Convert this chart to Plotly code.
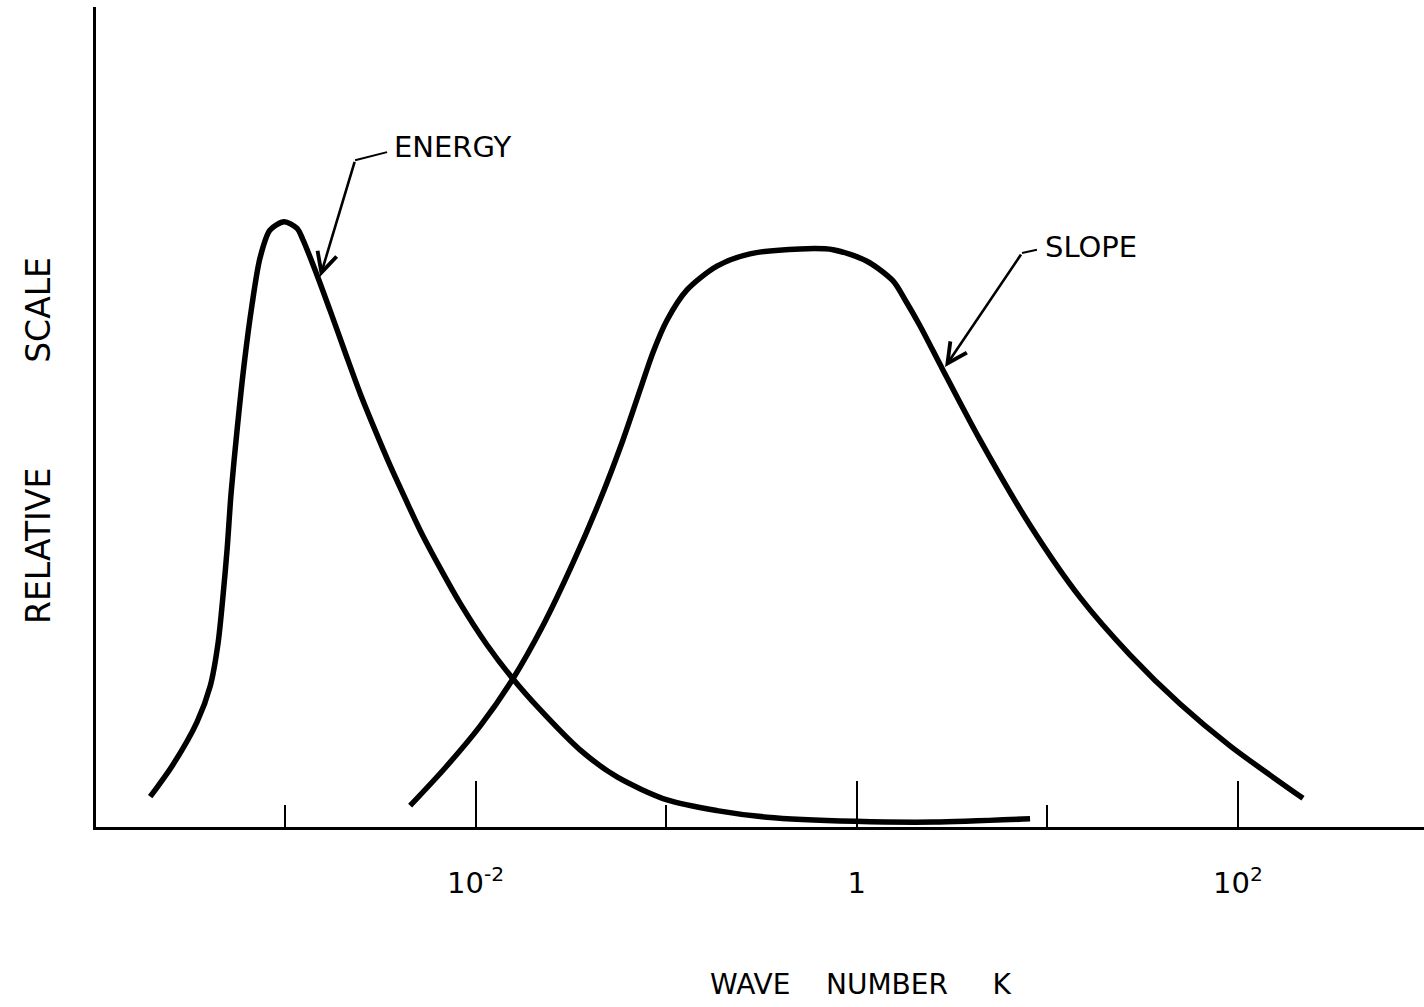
import math
import plotly.graph_objects as go

# ---- data (wave number k, relative scale) ----
energy_k = [1.96e-4, 2.58e-4, 3.45e-4, 4.05e-4, 4.45e-4, 4.73e-4, 4.97e-4, 5.21e-4,
            5.60e-4, 6.09e-4, 6.71e-4, 7.39e-4, 8.34e-4, 9.89e-4, 1.156e-3, 1.242e-3,
            1.472e-3, 1.722e-3, 2.065e-3, 2.475e-3, 2.967e-3, 3.556e-3, 4.262e-3, 5.109e-3,
            6.505e-3, 8.28e-3, 1.148e-2, 1.552e-2, 2.18e-2, 3.53e-2, 5.52e-2, 0.101,
            0.1845, 0.338, 0.98, 2.51, 8.11]
energy_y = [0.037, 0.076, 0.128, 0.172, 0.224, 0.283, 0.340, 0.407,
            0.484, 0.563, 0.637, 0.694, 0.728, 0.738, 0.730, 0.716,
            0.673, 0.630, 0.579, 0.529, 0.484, 0.441, 0.401, 0.362,
            0.316, 0.273, 0.222, 0.182, 0.143, 0.094, 0.061, 0.033,
            0.020, 0.012, 0.007, 0.006, 0.010]

slope_k = [4.53e-3, 6.91e-3, 1.055e-2, 1.552e-2, 2.26e-2, 3.24e-2, 4.50e-2, 5.93e-2,
           7.29e-2, 8.53e-2, 0.1009, 0.1285, 0.1845, 0.275, 0.504, 0.750,
           1.130, 1.549, 1.790, 2.148, 2.834, 4.43, 8.11, 14.83,
           27.1, 49.7, 90.8, 219.3]
slope_y = [0.026, 0.072, 0.123, 0.179, 0.246, 0.322, 0.399, 0.472,
           0.533, 0.579, 0.618, 0.655, 0.684, 0.699, 0.705, 0.704,
           0.690, 0.666, 0.643, 0.611, 0.557, 0.472, 0.368, 0.280,
           0.210, 0.150, 0.099, 0.035]

major_tick_vals = [1e-2, 1, 1e2]
major_tick_text = ["10<sup>-2</sup>", "1", "10<sup>2</sup>"]
minor_tick_vals = [1e-3, 1e-1, 1e1]

# labels (text, k, y); leader hook (label end -> bend); arrow tip on curve
energy_label = ("ENERGY", 3.64e-3, 0.829)
energy_leader_k = [3.43e-3, 2.33e-3]
energy_leader_y = [0.823, 0.813]
energy_tip = (1.528e-3, 0.671)

slope_label = ("SLOPE", 9.49, 0.707)
slope_leader_k = [8.81, 7.36]
slope_leader_y = [0.704, 0.700]
slope_tip = (2.904, 0.561)

NB = "\u00a0"
x_title = "WAVE" + NB * 4 + "NUMBER" + NB * 5 + "K"
y_title = "RELATIVE" + NB * 10 + "SCALE"

FONT = "DejaVu Sans"

fig = go.Figure()
for xs, ys in [(energy_k, energy_y), (slope_k, slope_y)]:
    fig.add_trace(go.Scatter(x=xs, y=ys, mode="lines",
                             line=dict(color="black", width=5.5, shape="spline", smoothing=0.8),
                             hoverinfo="skip"))
for lk, ly in [(energy_leader_k, energy_leader_y), (slope_leader_k, slope_leader_y)]:
    fig.add_trace(go.Scatter(x=lk, y=ly, mode="lines",
                             line=dict(color="black", width=2), hoverinfo="skip"))

annotations = []
for (text, lx, ly), lk, lyy, (tx, ty) in [
        (energy_label, energy_leader_k, energy_leader_y, energy_tip),
        (slope_label, slope_leader_k, slope_leader_y, slope_tip)]:
    annotations.append(dict(x=math.log10(lx), y=ly, xref="x", yref="y", text=text,
                            showarrow=False, xanchor="left", yanchor="middle",
                            font=dict(family=FONT, size=29, color="black")))
    annotations.append(dict(x=math.log10(tx), y=ty, xref="x", yref="y", text="",
                            showarrow=True, axref="x", ayref="y",
                            ax=math.log10(lk[-1]), ay=lyy[-1],
                            arrowhead=5, arrowsize=1.5, arrowwidth=2.6, arrowcolor="black",
                            standoff=0, startstandoff=0))

annotations.append(dict(x=(861 - 96) / 1328, y=(827 - 984) / 820, xref="paper", yref="paper",
                        text=x_title, showarrow=False, xanchor="center", yanchor="middle",
                        font=dict(family=FONT, size=28, color="black")))
annotations.append(dict(x=(38 - 96) / 1328, y=(827 - 441) / 820, xref="paper", yref="paper",
                        text=y_title, showarrow=False, textangle=-90,
                        xanchor="center", yanchor="middle",
                        font=dict(family=FONT, size=33, color="black")))

fig.update_layout(
    width=1424, height=1007,
    margin=dict(l=96, r=0, t=7, b=180),
    paper_bgcolor="white", plot_bgcolor="white",
    showlegend=False,
    annotations=annotations,
    xaxis=dict(type="log", range=[-3.992, 2.976], showgrid=False, zeroline=False,
               showline=True, linecolor="black", linewidth=3,
               tickmode="array", tickvals=major_tick_vals, ticktext=major_tick_text,
               ticks="inside", ticklen=46, tickwidth=2, tickcolor="black",
               ticklabelstandoff=28,
               tickfont=dict(family=FONT, size=29, color="black"),
               minor=dict(tickmode="array", tickvals=minor_tick_vals, ticks="inside",
                          ticklen=22, tickwidth=2, tickcolor="black", showgrid=False)),
    yaxis=dict(range=[0, 1], showgrid=False, zeroline=False, showline=True,
               linecolor="black", linewidth=3, ticks="", showticklabels=False),
)

fig.write_html("out.html", config={"displayModeBar": False},
               post_script="document.body.style.margin='0';document.body.style.overflow='hidden';")
